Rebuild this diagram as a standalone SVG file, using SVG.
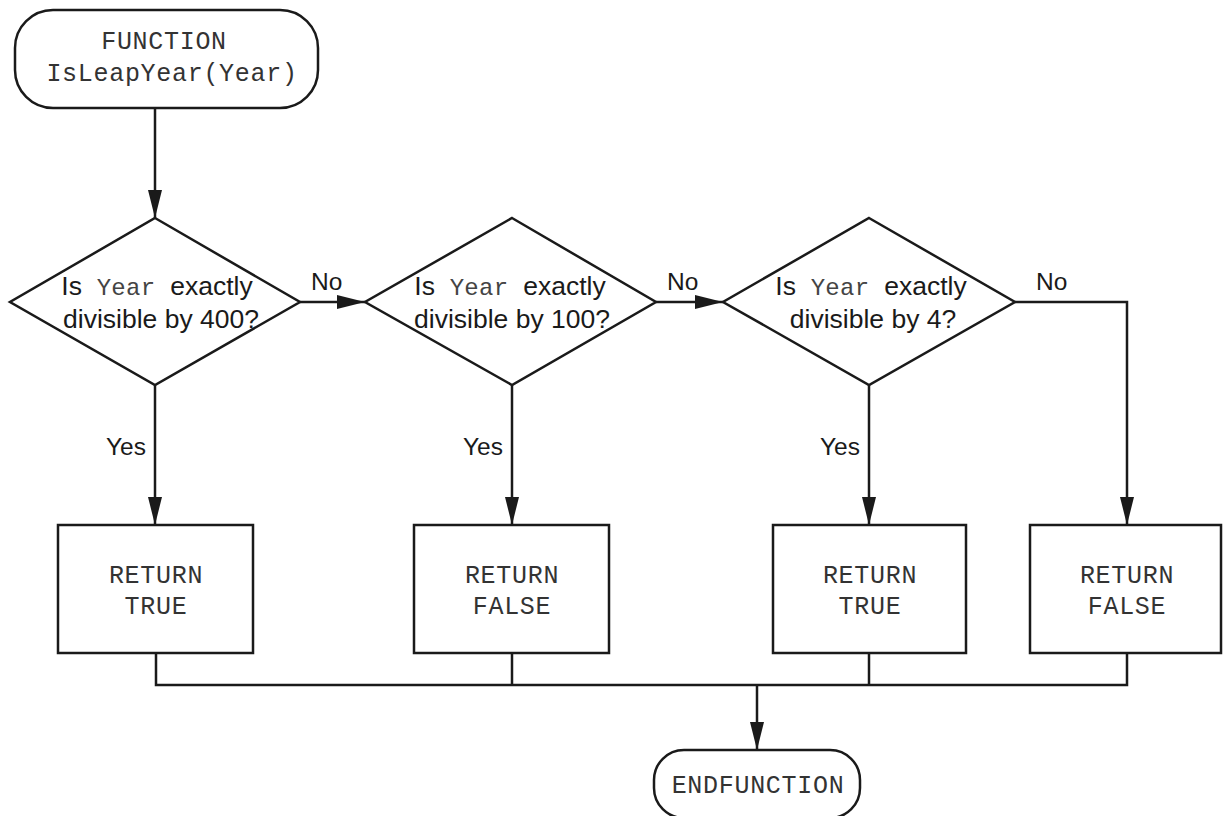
<svg xmlns="http://www.w3.org/2000/svg" width="1223" height="816" viewBox="0 0 1223 816">
<style>
.shape{fill:#fff;stroke:#1a1a1a;stroke-width:2.5}
.line{fill:none;stroke:#1a1a1a;stroke-width:2.5}
.mono{font-family:"Liberation Mono","Courier New",monospace;font-size:25px;letter-spacing:0.7px;fill:#333;text-anchor:middle}
.sans{font-family:"Liberation Sans",Arial,sans-serif;font-size:26.5px;fill:#1a1a1a;text-anchor:middle}
.lab{font-family:"Liberation Sans",Arial,sans-serif;font-size:24.5px;fill:#1a1a1a}
.ym{font-family:"Liberation Mono","Courier New",monospace;font-size:24px;letter-spacing:0.3px;fill:#444}
</style>
<defs>
<marker id="arr" markerWidth="28" markerHeight="14" refX="28" refY="7" orient="auto" markerUnits="userSpaceOnUse">
<path d="M0,0 L28,7 L0,14 Z" fill="#1a1a1a"/>
</marker>
</defs>
<g id="connectors">
<line class="line" x1="155" y1="108" x2="155" y2="218" marker-end="url(#arr)"/>
<line class="line" x1="300" y1="302" x2="365" y2="302" marker-end="url(#arr)"/>
<line class="line" x1="656" y1="302" x2="723" y2="302" marker-end="url(#arr)"/>
<polyline class="line" points="1015,302 1127,302 1127,525" marker-end="url(#arr)"/>
<line class="line" x1="155" y1="385" x2="155" y2="525" marker-end="url(#arr)"/>
<line class="line" x1="512" y1="385" x2="512" y2="525" marker-end="url(#arr)"/>
<line class="line" x1="869" y1="385" x2="869" y2="525" marker-end="url(#arr)"/>
<polyline class="line" points="156,653 156,685 1127,685 1127,653"/>
<line class="line" x1="512" y1="653" x2="512" y2="685"/>
<line class="line" x1="869" y1="653" x2="869" y2="685"/>
<line class="line" x1="757" y1="685" x2="757" y2="750" marker-end="url(#arr)"/>
<text class="lab" x="311" y="290">No</text>
<text class="lab" x="667" y="290">No</text>
<text class="lab" x="1036" y="290">No</text>
<text class="lab" x="106" y="455">Yes</text>
<text class="lab" x="463" y="455">Yes</text>
<text class="lab" x="820" y="455">Yes</text>
</g>
<g id="start">
<rect class="shape" x="15" y="10" width="303" height="98" rx="38" ry="38"/>
<text class="mono" x="164" y="49">FUNCTION</text>
<text class="mono" x="172" y="81">IsLeapYear(Year)</text>
</g>
<g id="dec400">
<polygon class="shape" points="155,218 300,302 155,385 10,302"/>
<text class="sans" x="157" y="295" xml:space="preserve">Is<tspan class="ym"> Year </tspan>exactly</text>
<text class="sans" x="161" y="328">divisible by 400?</text>
</g>
<g id="dec100">
<polygon class="shape" points="512,218 656,302 512,385 365,302"/>
<text class="sans" x="510" y="295" xml:space="preserve">Is<tspan class="ym"> Year </tspan>exactly</text>
<text class="sans" x="512" y="328">divisible by 100?</text>
</g>
<g id="dec4">
<polygon class="shape" points="869,218 1015,302 869,385 723,302"/>
<text class="sans" x="871" y="295" xml:space="preserve">Is<tspan class="ym"> Year </tspan>exactly</text>
<text class="sans" x="873" y="328">divisible by 4?</text>
</g>
<g id="ret1">
<rect class="shape" x="58" y="525" width="195" height="128"/>
<text class="mono" x="156" y="583">RETURN</text>
<text class="mono" x="156" y="614">TRUE</text>
</g>
<g id="ret2">
<rect class="shape" x="414" y="525" width="195" height="128"/>
<text class="mono" x="512" y="583">RETURN</text>
<text class="mono" x="512" y="614">FALSE</text>
</g>
<g id="ret3">
<rect class="shape" x="773" y="525" width="193" height="128"/>
<text class="mono" x="870" y="583">RETURN</text>
<text class="mono" x="870" y="614">TRUE</text>
</g>
<g id="ret4">
<rect class="shape" x="1030" y="525" width="191" height="128"/>
<text class="mono" x="1127" y="583">RETURN</text>
<text class="mono" x="1127" y="614">FALSE</text>
</g>
<g id="end">
<rect class="shape" x="654" y="750" width="206" height="68" rx="30" ry="30"/>
<text class="mono" x="758" y="793">ENDFUNCTION</text>
</g>
</svg>
